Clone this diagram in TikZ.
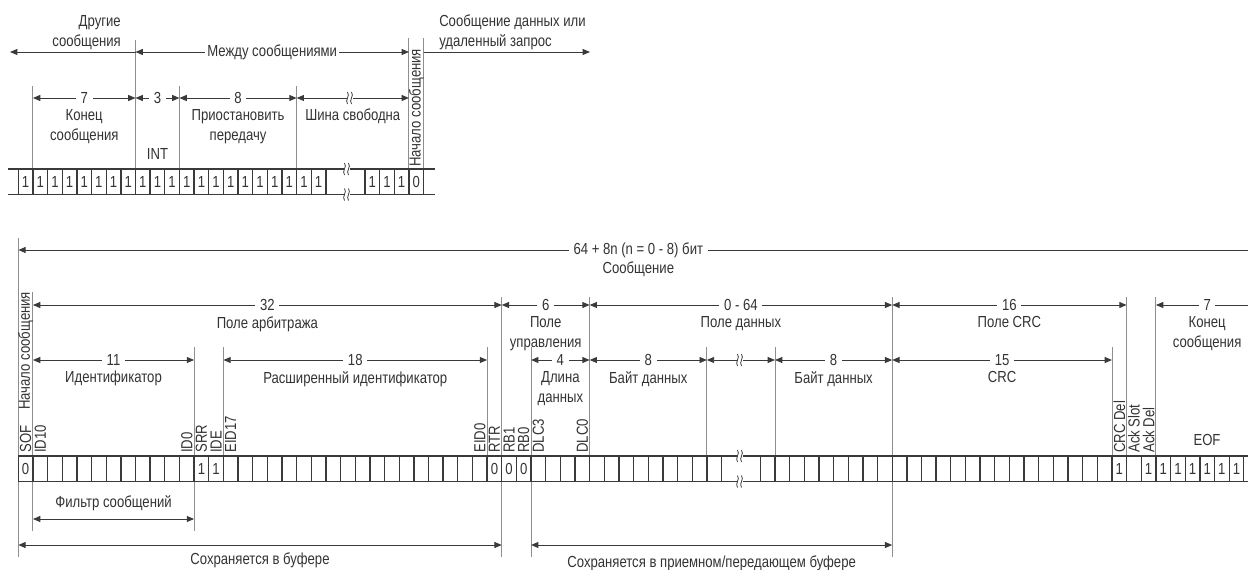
\documentclass[tikz,border=0pt]{standalone}
\usepackage{fontspec}
\setmainfont{Liberation Sans}[FakeStretch=0.82]
\usetikzlibrary{arrows.meta}
\definecolor{linecol}{HTML}{3A3A3A}
\definecolor{guidecol}{HTML}{8E8E8E}
\definecolor{textcol}{HTML}{333333}

\begin{document}
\begin{tikzpicture}[x=0.75pt,y=-0.75pt,
	every node/.style={font=\fontsize{12}{15}\selectfont,text=textcol},
	cell/.style={draw=linecol,line width=1pt},
	guide/.style={draw=guidecol,line width=0.7pt},
	dim/.style={draw=linecol,line width=0.7pt,{Triangle[length=5.5pt,width=4.5pt]}-{Triangle[length=5.5pt,width=4.5pt]}},
	sgl/.style={draw=linecol,line width=0.7pt,-{Triangle[length=5.5pt,width=4.5pt]}},
	num/.style={fill=white,inner xsep=3.5pt,inner ysep=1pt},
	txt/.style={align=center,anchor=north,inner sep=0pt},
	vlab/.style={rotate=90,anchor=west,inner sep=0pt},
	brk/.pic={
		\fill[white] (-3,-6) rectangle (3,6);
		\foreach \dx in {-2.5,1.5}
			\draw[linecol,line width=0.6pt] (\dx,-6) .. controls ({\dx+3},-2) and ({\dx-3},2) .. (\dx,6);
	}
]
\useasboundingbox (0,0) rectangle (1248,570);
\clip (0,0) rectangle (1248,570);

\foreach \x/\ya/\yb in {32.95/86/169,135.5/40/169,179.45/86/169,296.65/86/169,408.95/38/169,423.6/38/169,
	18.3/238/557,32.95/292/531,194.1/347/531,223.4/347/456,487.1/347/456,501.75/297/557,531.05/347/557,
	589.65/297/456,706.85/347/456,775/347/456,892.2/297/557,1111.95/347/456,1126.6/297/456,1155.9/297/456}
	\draw[guide] (\x,\ya) -- (\x,\yb);

\draw[cell] (8,169) -- (435,169) (8,194.5) -- (435,194.5);
\foreach \i in {0,...,21} \draw[cell] ({18.3+14.65*\i},169) -- ++(0,25.5);
\foreach \i in {0,...,4} \draw[cell] ({365+14.65*\i},169) -- ++(0,25.5);
\foreach \i in {0,...,20} \node (tb\i) at ({25.6+14.65*\i},181.75) {1};
\foreach \v [count=\i from 0] in {1,1,1,0} \node (tr\i) at ({372.3+14.65*\i},181.75) {\v};
\pic at (347,169) {brk};
\pic at (347,194.5) {brk};

\draw[cell] (18.3,456) -- (1262,456) (18.3,481.5) -- (1262,481.5);
\foreach \i in {0,...,48} \draw[cell] ({18.3+14.65*\i},456) -- ++(0,25.5);
\foreach \j in {0,...,34} \draw[cell] ({760.35+14.65*\j},456) -- ++(0,25.5);
\foreach \i/\v in {0/0,12/1,13/1,32/0,33/0,34/0} \node (b\i) at ({25.6+14.65*\i},468.75) {\v};
\foreach \j in {24,26,27,...,33} \node (c\j) at ({767.7+14.65*\j},468.75) {1};
\pic at (740,456) {brk};
\pic at (740,481.5) {brk};

\foreach \i/\txt in {0/SOF,1/ID10,11/ID0,12/SRR,13/IDE,14/EID17,31/EID0,32/RTR,33/RB1,34/RB0,35/DLC3,38/DLC0}
	\node[vlab] (v\i) at ({25.6+14.65*\i},453) {\txt};
\foreach \j/\txt in {24/CRC Del,25/Ack Slot,26/Ack Del}
	\node[vlab] (w\j) at ({767.7+14.65*\j},453) {\txt};
\node[vlab] (sofA) at (416.3,167) {Начало сообщения};
\node[vlab] (sofB) at (25.6,410) {Начало сообщения};
\node (eof) at (1207,440) {EOF};
\node[txt] (int) at (157.5,148) {INT};

\coordinate (other) at (10,52);
\coordinate (gapL) at (135.5,52);
\coordinate (gapR) at (408.95,52);
\coordinate (dataL) at (423.6,52);
\coordinate (dataR) at (590,52);
\draw[sgl] (gapL) -- (other);
\draw[dim] (gapL) -- node[num,inner xsep=1.5pt] (between) {Между сообщениями} (gapR);
\draw[sgl] (dataL) -- (dataR);
\node[align=right,anchor=south east,inner sep=0pt] (othertxt) at (121,50) {Другие\\сообщения};
\node[align=left,anchor=south west,inner sep=0pt] (datatxt) at (439,50) {Сообщение данных или\\удаленный запрос};

\foreach \a/\b/\y/\num/\txt [count=\k] in {
	32.95/135.5/98/7/{Конец\\сообщения},
	135.5/179.45/98/3/{},
	179.45/296.65/98/8/{Приостановить\\передачу},
	18.3/1258.4/250/{64 + 8n (n = 0 - 8) бит}/Сообщение,
	32.95/501.75/305/32/{Поле арбитража},
	501.75/589.65/305/6/{Поле\\управления},
	589.65/892.2/305/{0 - 64}/{Поле данных},
	892.2/1126.6/305/16/{Поле CRC},
	1155.9/1258.4/305/7/{Конец\\сообщения},
	32.95/194.1/360/11/Идентификатор,
	223.4/487.1/360/18/{Расширенный идентификатор},
	531.05/589.65/360/4/{Длина\\данных},
	589.65/706.85/360/8/{Байт данных},
	775/892.2/360/8/{Байт данных},
	892.2/1111.95/360/15/CRC%
	}{
	\coordinate (da\k) at (\a,\y);
	\coordinate (db\k) at (\b,\y);
	\draw[dim] (da\k) -- node[num] (dn\k) {\num} (db\k);
	\node[txt] (dt\k) at ({(\a+\b)/2},{\y+11}) {\txt};
	}

\coordinate (idleL) at (296.65,98);
\coordinate (idleR) at (408.95,98);
\draw[dim] (idleL) -- (idleR);
\pic at (350,98) {brk};
\node[txt] (idle) at (352.8,109) {Шина свободна};
\coordinate (skipL) at (706.85,360);
\coordinate (skipR) at (775,360);
\draw[dim] (skipL) -- (skipR);
\pic at (740,360) {brk};

\coordinate (filtL) at (32.95,519);
\coordinate (filtR) at (194.1,519);
\draw[dim] (filtL) -- (filtR);
\node[anchor=south,inner sep=0pt] (filt) at (113.5,511.5) {Фильтр сообщений};
\coordinate (bufL) at (18.3,545);
\coordinate (bufR) at (501.75,545);
\draw[dim] (bufL) -- (bufR);
\node[txt] (buf) at (260,552) {Сохраняется в буфере};
\coordinate (rxL) at (531.05,545);
\coordinate (rxR) at (892.2,545);
\draw[dim] (rxL) -- (rxR);
\node[txt] (rx) at (711.6,555) {Сохраняется в приемном/передающем буфере};
\end{tikzpicture}
\end{document}
